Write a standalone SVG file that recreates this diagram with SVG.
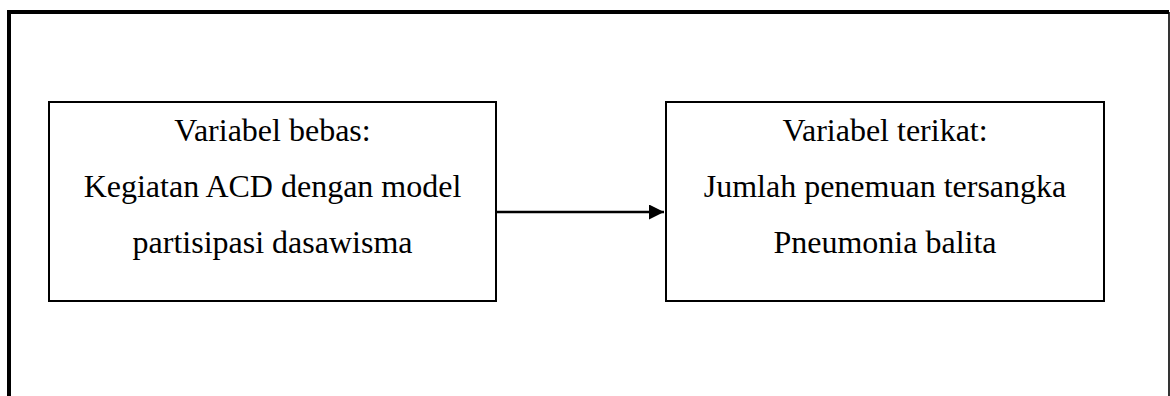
<svg xmlns="http://www.w3.org/2000/svg" width="1170" height="396" viewBox="0 0 1170 396">
<style>
.box{fill:#fff;stroke:#000;stroke-width:2}
.t{font-family:"Liberation Serif","Times New Roman",serif;font-size:32px;fill:#000;text-anchor:middle}
</style>
<defs>
<marker id="ah" markerUnits="userSpaceOnUse" markerWidth="16" markerHeight="16" refX="15" refY="7.5" orient="auto">
<path d="M0,0 L15,7.5 L0,15 Z" fill="#000"/>
</marker>
</defs>
<rect width="1170" height="396" fill="#fff"/>
<g id="frame">
<path d="M9,396 V12 H1169" fill="none" stroke="#000" stroke-width="4"/>
<line x1="1169" y1="12" x2="1169" y2="396" stroke="#000" stroke-width="1.6"/>
</g>
<g id="connectors">
<line x1="497" y1="212" x2="664" y2="212" stroke="#000" stroke-width="2.5" marker-end="url(#ah)"/>
</g>
<g id="node-bebas">
<rect class="box" x="49" y="102" width="447" height="199"/>
<text class="t" x="272.5" y="141">Variabel bebas:</text>
<text class="t" x="272.5" y="197">Kegiatan ACD dengan model</text>
<text class="t" x="272.5" y="253">partisipasi dasawisma</text>
</g>
<g id="node-terikat">
<rect class="box" x="666" y="102" width="438" height="199"/>
<text class="t" x="885" y="141">Variabel terikat:</text>
<text class="t" x="885" y="197">Jumlah penemuan tersangka</text>
<text class="t" x="885" y="253">Pneumonia balita</text>
</g>
</svg>
